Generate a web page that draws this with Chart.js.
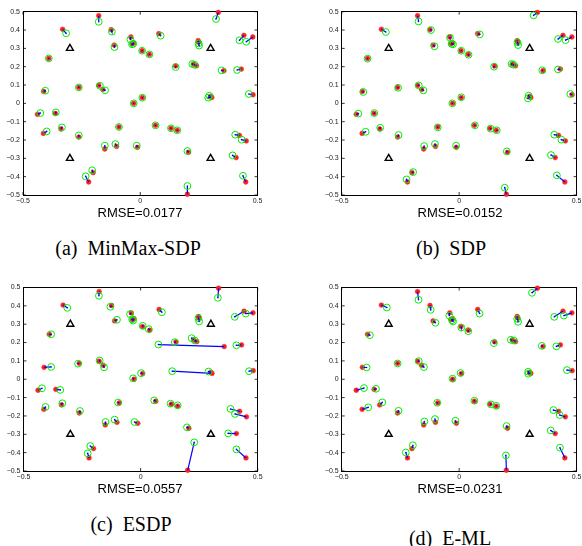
<!DOCTYPE html>
<html>
<head>
<meta charset="utf-8">
<script src="https://cdn.jsdelivr.net/npm/chart.js@4.4.1/dist/chart.umd.min.js"></script>
<style>
html,body{margin:0;padding:0;background:#fff;}
#wrap{position:relative;width:582px;height:546px;overflow:hidden;background:#fff;}
canvas{position:absolute;}
.rmse{position:absolute;font-family:"Liberation Sans",Arial,Helvetica,sans-serif;font-size:13px;color:#000;transform:translate(-50%,-50%);white-space:nowrap;line-height:1;}
.cap{position:absolute;font-family:"Liberation Serif","Times New Roman",Times,"DejaVu Serif",serif;font-size:20px;color:#000;transform:translate(-50%,-50%);white-space:nowrap;line-height:1;}
</style>
</head>
<body>
<div id="wrap">
  <canvas id="ca" width="290" height="205" style="left:0;top:0"></canvas>
  <canvas id="cb" width="292" height="205" style="left:290px;top:0"></canvas>
  <canvas id="cc" width="290" height="211" style="left:0;top:270px"></canvas>
  <canvas id="cd" width="292" height="211" style="left:290px;top:270px"></canvas>
  <div class="rmse" style="left:140px;top:212px">RMSE=0.0177</div>
  <div class="rmse" style="left:460px;top:212px">RMSE=0.0152</div>
  <div class="rmse" style="left:140px;top:488px">RMSE=0.0557</div>
  <div class="rmse" style="left:460px;top:488px">RMSE=0.0231</div>
  <div class="cap" style="left:128px;top:248px">(a)&nbsp;&nbsp;MinMax-SDP</div>
  <div class="cap" style="left:451px;top:248px">(b)&nbsp;&nbsp;SDP</div>
  <div class="cap" style="left:131px;top:524px">(c)&nbsp;&nbsp;ESDP</div>
  <div class="cap" style="left:450px;top:538px">(d)&nbsp;&nbsp;E-ML</div>
</div>
<script>
// ---- data ----
const anchorX = [-0.3, 0.3, -0.3, 0.3];
const anchorY = [0.3, 0.3, -0.3, -0.3];

const trueX = [0.333,-0.177,-0.331,-0.124,-0.040,-0.035,-0.028,-0.111,0.008,0.039,
  0.079,0.247,0.249,0.442,0.480,-0.390,0.151,0.226,0.240,0.357,
  0.431,-0.262,-0.177,-0.160,-0.412,-0.028,0.009,0.300,0.305,0.481,
  -0.438,-0.362,-0.338,-0.413,-0.262,-0.091,0.065,0.131,0.158,-0.151,
  -0.101,-0.012,0.206,0.423,0.452,0.409,-0.220,-0.201,0.450,0.201];
const trueY = [0.496,0.478,0.404,0.402,0.362,0.325,0.330,0.318,0.287,0.267,
  0.380,0.342,0.334,0.371,0.362,0.245,0.204,0.214,0.205,0.178,
  0.187,0.087,0.098,0.076,0.065,0.000,0.031,0.038,0.032,0.047,
  -0.060,-0.055,-0.140,-0.164,-0.184,-0.129,-0.120,-0.136,-0.147,-0.249,
  -0.235,-0.240,-0.267,-0.175,-0.205,-0.296,-0.429,-0.378,-0.429,-0.496];

const minmaxX = [0.323,-0.177,-0.316,-0.121,-0.042,-0.035,-0.030,-0.110,0.008,0.039,
  0.087,0.249,0.251,0.423,0.452,-0.390,0.151,0.222,0.232,0.347,
  0.413,-0.262,-0.172,-0.150,-0.405,-0.028,0.009,0.294,0.290,0.463,
  -0.426,-0.360,-0.334,-0.399,-0.262,-0.091,0.065,0.131,0.158,-0.151,
  -0.106,-0.015,0.201,0.405,0.432,0.394,-0.233,-0.205,0.438,0.201];
const minmaxY = [0.460,0.445,0.382,0.391,0.349,0.322,0.325,0.307,0.287,0.267,
  0.369,0.327,0.315,0.344,0.336,0.245,0.198,0.215,0.210,0.180,
  0.182,0.087,0.096,0.071,0.069,0.000,0.031,0.042,0.031,0.051,
  -0.053,-0.049,-0.131,-0.153,-0.175,-0.129,-0.120,-0.136,-0.147,-0.231,
  -0.222,-0.231,-0.260,-0.171,-0.198,-0.284,-0.398,-0.365,-0.395,-0.451];

const sdpX = [0.317,-0.173,-0.312,-0.120,-0.039,-0.032,-0.026,-0.105,0.009,0.040,
  0.088,0.248,0.251,0.421,0.453,-0.390,0.149,0.223,0.231,0.354,
  0.421,-0.260,-0.172,-0.152,-0.408,-0.029,0.009,0.296,0.293,0.473,
  -0.429,-0.361,-0.336,-0.398,-0.258,-0.091,0.067,0.134,0.160,-0.149,
  -0.103,-0.013,0.203,0.405,0.435,0.391,-0.224,-0.196,0.416,0.194];
const sdpY = [0.480,0.447,0.389,0.400,0.358,0.325,0.322,0.311,0.287,0.265,
  0.376,0.333,0.318,0.351,0.345,0.244,0.200,0.215,0.211,0.180,
  0.185,0.085,0.098,0.071,0.062,0.000,0.033,0.042,0.027,0.051,
  -0.056,-0.053,-0.133,-0.155,-0.173,-0.131,-0.120,-0.138,-0.147,-0.233,
  -0.222,-0.231,-0.262,-0.171,-0.198,-0.282,-0.415,-0.375,-0.393,-0.460];

const esdpX = [0.330,-0.178,-0.313,-0.129,-0.045,-0.036,-0.032,-0.101,0.009,0.035,
  0.091,0.247,0.250,0.402,0.449,-0.382,0.146,0.218,0.232,0.076,
  0.409,-0.267,-0.175,-0.156,-0.382,-0.032,0.002,0.290,0.135,0.463,
  -0.421,-0.343,-0.334,-0.406,-0.259,-0.096,0.058,0.128,0.158,-0.150,
  -0.111,-0.026,0.198,0.384,0.403,0.374,-0.226,-0.215,0.409,0.229];
const esdpY = [0.444,0.455,0.389,0.395,0.355,0.327,0.320,0.324,0.291,0.273,
  0.365,0.333,0.315,0.340,0.358,0.245,0.202,0.224,0.211,0.189,
  0.185,0.085,0.102,0.065,0.067,0.005,0.033,0.042,0.044,0.044,
  -0.049,-0.058,-0.131,-0.151,-0.173,-0.127,-0.115,-0.133,-0.142,-0.233,
  -0.220,-0.233,-0.262,-0.162,-0.189,-0.295,-0.404,-0.364,-0.382,-0.344];

const emlX = [0.310,-0.173,-0.308,-0.121,-0.042,-0.030,-0.026,-0.101,0.009,0.039,
  0.087,0.247,0.251,0.405,0.446,-0.380,0.148,0.220,0.233,0.352,
  0.414,-0.262,-0.172,-0.150,-0.394,-0.028,0.006,0.294,0.294,0.459,
  -0.405,-0.354,-0.327,-0.387,-0.258,-0.093,0.065,0.135,0.158,-0.148,
  -0.103,-0.016,0.202,0.401,0.428,0.390,-0.227,-0.197,0.429,0.199];
const emlY = [0.471,0.433,0.391,0.378,0.347,0.322,0.315,0.308,0.282,0.262,
  0.358,0.329,0.313,0.340,0.347,0.240,0.197,0.215,0.211,0.182,
  0.179,0.086,0.099,0.066,0.064,0.003,0.034,0.041,0.030,0.050,
  -0.048,-0.052,-0.126,-0.153,-0.172,-0.128,-0.117,-0.137,-0.145,-0.230,
  -0.217,-0.226,-0.255,-0.168,-0.195,-0.279,-0.399,-0.360,-0.373,-0.415];

const xTickValues = [-0.5, 0, 0.5];
const yTickStep = 0.1;
const axisMin = -0.5, axisMax = 0.5;

// ---- helpers ----
function pts(xs, ys){ return xs.map((x,i)=>({x:x, y:ys[i]})); }
function links(ex, ey){
  const out = [];
  for (let i=0;i<trueX.length;i++){
    out.push({x:trueX[i], y:trueY[i]});
    out.push({x:ex[i], y:ey[i]});
    out.push({x:null, y:null});
  }
  return out;
}
function fmt(v){
  const r = Math.round(v*10)/10;
  if (Math.abs(r) < 1e-9) return '0';
  return (r<0?'\u22120':'0') + '.' + Math.round(Math.abs(r)*10);
}

const inwardTicks = {
  id:'inwardTicks',
  afterDraw(chart){
    const {ctx, chartArea:a, scales} = chart;
    ctx.save();
    ctx.strokeStyle = '#000';
    ctx.lineWidth = 0.8;
    const L = 3;
    ctx.beginPath();
    scales.x.ticks.forEach(t=>{
      const px = scales.x.getPixelForValue(t.value);
      ctx.moveTo(px, a.bottom); ctx.lineTo(px, a.bottom - L);
      ctx.moveTo(px, a.top); ctx.lineTo(px, a.top + L);
    });
    scales.y.ticks.forEach(t=>{
      const py = scales.y.getPixelForValue(t.value);
      ctx.moveTo(a.left, py); ctx.lineTo(a.left + L, py);
      ctx.moveTo(a.right, py); ctx.lineTo(a.right - L, py);
    });
    ctx.stroke();
    ctx.restore();
  }
};

function makePanel(id, ex, ey, box){
  const cv = document.getElementById(id);
  const W = cv.width, H = cv.height;
  const tickFont = {family:'"Liberation Sans", Arial, sans-serif', size:7};
  new Chart(cv, {
    type:'scatter',
    data:{ datasets:[
      { label:'anchors', data:pts(anchorX, anchorY), pointStyle:'triangle', pointRadius:4,
        pointBorderColor:'#000', pointBackgroundColor:'rgba(0,0,0,0)', pointBorderWidth:1.4, order:0, clip:false },
      { label:'estCenter', data:pts(ex, ey), pointStyle:'circle', pointRadius:0.8,
        pointBorderColor:'#0000ff', pointBackgroundColor:'#0000ff', pointBorderWidth:0, order:1, clip:false },
      { label:'estimated', data:pts(ex, ey), pointStyle:'circle', pointRadius:3.4,
        pointBorderColor:'#00ee00', pointBackgroundColor:'rgba(0,0,0,0)', pointBorderWidth:1, order:2, clip:false },
      { label:'error', data:links(ex, ey), showLine:true, spanGaps:false, pointRadius:0,
        borderColor:'#0000ff', borderWidth:1.2, order:3, clip:false },
      { label:'true', data:pts(trueX, trueY), pointStyle:'circle', pointRadius:2.4,
        pointBorderColor:'#ff2020', pointBackgroundColor:'#ff2020', pointBorderWidth:0.5, order:4, clip:false }
    ]},
    options:{
      responsive:false, animation:false, devicePixelRatio:1,
      layout:{padding:0},
      plugins:{legend:{display:false}, tooltip:{enabled:false}},
      scales:{
        x:{ type:'linear', position:'bottom', min:axisMin, max:axisMax,
            afterBuildTicks(s){ s.ticks = xTickValues.map(v=>({value:v})); },
            ticks:{ font:tickFont, color:'#222', padding:2, maxRotation:0, autoSkip:false, callback:(v)=>fmt(v) },
            grid:{ display:true, drawOnChartArea:false, drawTicks:false },
            border:{ display:true, color:'#000', width:1 },
            afterFit(s){ s.height = H - box.bottom; s.paddingLeft = 0; s.paddingRight = 0; } },
        x2:{ type:'linear', position:'top', min:axisMin, max:axisMax,
            ticks:{ display:false }, grid:{ display:true, drawOnChartArea:false, drawTicks:false },
            border:{ display:true, color:'#000', width:1 },
            afterFit(s){ s.height = box.top; s.paddingLeft = 0; s.paddingRight = 0; } },
        y:{ type:'linear', position:'left', min:axisMin, max:axisMax,
            ticks:{ stepSize:yTickStep, font:tickFont, color:'#222', padding:3, autoSkip:false, callback:(v)=>fmt(v) },
            grid:{ display:true, drawOnChartArea:false, drawTicks:false },
            border:{ display:true, color:'#000', width:1 },
            afterFit(s){ s.width = box.left; s.paddingTop = 0; s.paddingBottom = 0; } },
        y2:{ type:'linear', position:'right', min:axisMin, max:axisMax,
            ticks:{ display:false }, grid:{ display:true, drawOnChartArea:false, drawTicks:false },
            border:{ display:true, color:'#000', width:1 },
            afterFit(s){ s.width = W - box.right; s.paddingTop = 0; s.paddingBottom = 0; } }
      }
    },
    plugins:[inwardTicks]
  });
}

makePanel('ca', minmaxX, minmaxY, {left:23, right:257.5, top:11.7, bottom:195});
makePanel('cb', sdpX, sdpY, {left:51.7, right:287.3, top:11.7, bottom:195});
makePanel('cc', esdpX, esdpY, {left:23.5, right:257.7, top:17.5, bottom:201});
makePanel('cd', emlX, emlY, {left:51.7, right:287.3, top:17.5, bottom:201});
</script>
</body>
</html>
